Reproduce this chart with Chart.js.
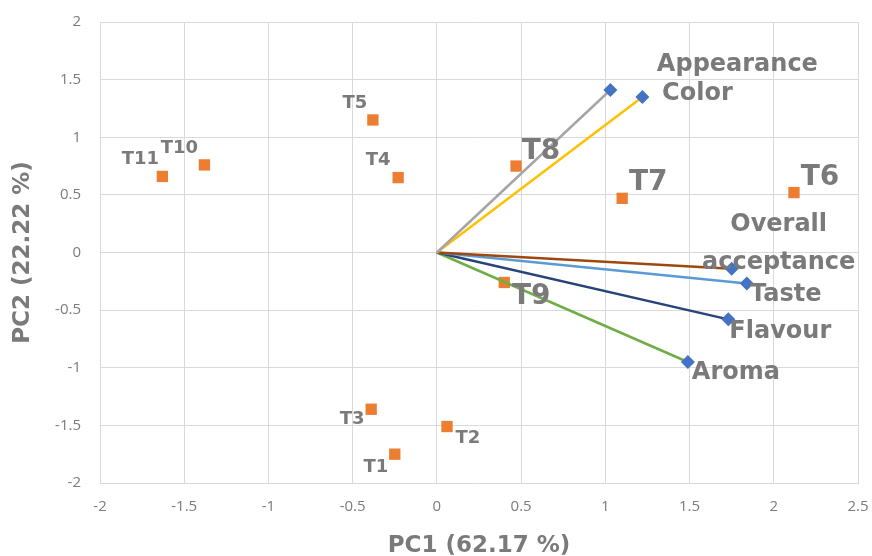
<!DOCTYPE html>
<html>
<head>
<meta charset="utf-8">
<script src="https://cdn.jsdelivr.net/npm/chart.js@4.4.1/dist/chart.umd.min.js"></script>
<style>
  body { margin: 0; background: #fff; }
  #wrap { width: 872px; height: 556px; }
</style>
</head>
<body>
<div id="wrap"><canvas id="pcaChart" width="872" height="556"></canvas></div>
<script>
    // treatment scores
    const treatments = ['T1', 'T2', 'T3', 'T4', 'T5', 'T6', 'T7', 'T8', 'T9', 'T10', 'T11'];
    const pc1Scores = [-0.25, 0.06, -0.39, -0.23, -0.38, 2.12, 1.10, 0.47, 0.40, -1.38, -1.63];
    const pc2Scores = [-1.75, -1.51, -1.36, 0.65, 1.15, 0.52, 0.47, 0.75, -0.26, 0.76, 0.66];

    // attribute loadings
    const attributes = ['Appearance', 'Color', 'Overall acceptance', 'Taste', 'Flavour', 'Aroma'];
    const pc1Loadings = [1.03, 1.22, 1.75, 1.84, 1.73, 1.49];
    const pc2Loadings = [1.41, 1.35, -0.14, -0.27, -0.58, -0.95];

    // axis ranges
    const xRange = [-2, 2.5];
    const yRange = [-2, 2];
    const tickStep = 0.5;

    // label look
    const vectorColors = ['#A5A5A5', '#FFC000', '#9E480E', '#5B9BD5', '#264478', '#70AD47'];
    const bigLabels = ['T6', 'T7', 'T8', 'T9'];
    const scoreLabelShift = [[-19, 13], [21, 12], [-19, 10], [-20, -17], [-18, -17], [26, -15],
                             [26, -16], [25, -14], [27, 14], [-25, -17], [-22, -17]];
    const attrLabelShift = [[127, -25], [55, -3], [47, -25], [39, 11], [52, 12], [48, 11]];
    const labelGray = '#7a7a7a';
    const tickGray = '#7b7b7b';
    const gridGray = '#d9d9d9';

    const datasets = attributes.map((name, i) => ({
        label: name,
        data: [{x: 0, y: 0}, {x: pc1Loadings[i], y: pc2Loadings[i]}],
        showLine: true,
        borderColor: vectorColors[i],
        borderWidth: 2.5,
        pointStyle: 'rectRot',
        pointRadius: [0, 7],
        pointBackgroundColor: '#4472C4',
        pointBorderColor: '#4472C4',
        pointBorderWidth: 0
    }));

    datasets.push({
        label: 'Treatments',
        data: treatments.map((t, i) => ({x: pc1Scores[i], y: pc2Scores[i]})),
        pointStyle: 'rect',
        pointRadius: 8,
        backgroundColor: '#ED7D31',
        borderColor: '#ED7D31',
        borderWidth: 0
    });

    // text next to every point
    const pointLabels = {
        id: 'pointLabels',
        afterDatasetsDraw(chart) {
            const ctx = chart.ctx;
            ctx.save();
            ctx.fillStyle = labelGray;
            ctx.textAlign = 'center';
            ctx.textBaseline = 'middle';

            const scoreMeta = chart.getDatasetMeta(attributes.length);
            treatments.forEach((t, i) => {
                const pt = scoreMeta.data[i];
                const big = bigLabels.includes(t);
                ctx.font = 'bold ' + (big ? 28 : 18) + 'px "DejaVu Sans"';
                ctx.fillText(t, pt.x + scoreLabelShift[i][0], pt.y + scoreLabelShift[i][1]);
            });

            ctx.font = 'bold 24px "DejaVu Sans"';
            attributes.forEach((name, i) => {
                const pt = chart.getDatasetMeta(i).data[1];
                const cx = pt.x + attrLabelShift[i][0];
                const cy = pt.y + attrLabelShift[i][1];
                const words = name === 'Overall acceptance' ? ['Overall', 'acceptance'] : [name];
                const gap = 38;
                words.forEach((w, k) => {
                    ctx.fillText(w, cx, cy + (k - (words.length - 1) / 2) * gap);
                });
            });
            ctx.restore();
        }
    };

    const fmtTick = v => String(Math.round(v * 10) / 10);

    new Chart(document.getElementById('pcaChart'), {
        type: 'scatter',
        data: { datasets: datasets },
        options: {
            responsive: false,
            animation: false,
            layout: { padding: { left: 0, right: 14, top: 22, bottom: 0 } },
            plugins: {
                legend: { display: false },
                tooltip: { enabled: false }
            },
            scales: {
                x: {
                    type: 'linear',
                    min: xRange[0],
                    max: xRange[1],
                    afterFit(scale) {
                        scale.height = 73;
                        scale.paddingLeft = 0;
                        scale.paddingRight = 0;
                    },
                    ticks: {
                        stepSize: tickStep,
                        padding: 15,
                        color: tickGray,
                        font: { family: 'Open Sans', size: 15 },
                        callback: fmtTick
                    },
                    grid: { color: gridGray, drawTicks: false },
                    border: { color: gridGray },
                    title: {
                        display: true,
                        text: 'PC1 (62.17 %)',
                        color: labelGray,
                        font: { family: 'DejaVu Sans', size: 23, weight: 'bold', lineHeight: 0.9 },
                        padding: 0
                    }
                },
                y: {
                    type: 'linear',
                    min: yRange[0],
                    max: yRange[1],
                    afterFit(scale) {
                        scale.width = 100;
                        scale.paddingTop = 0;
                        scale.paddingBottom = 0;
                    },
                    ticks: {
                        stepSize: tickStep,
                        padding: 19,
                        color: tickGray,
                        font: { family: 'Open Sans', size: 15 },
                        callback: fmtTick
                    },
                    grid: { color: gridGray, drawTicks: false },
                    border: { color: gridGray },
                    title: {
                        display: true,
                        text: 'PC2 (22.22 %)',
                        color: labelGray,
                        font: { family: 'DejaVu Sans', size: 23, weight: 'bold' },
                        padding: { top: 9, bottom: 0 }
                    }
                }
            }
        },
        plugins: [pointLabels]
    });
</script>
</body>
</html>
